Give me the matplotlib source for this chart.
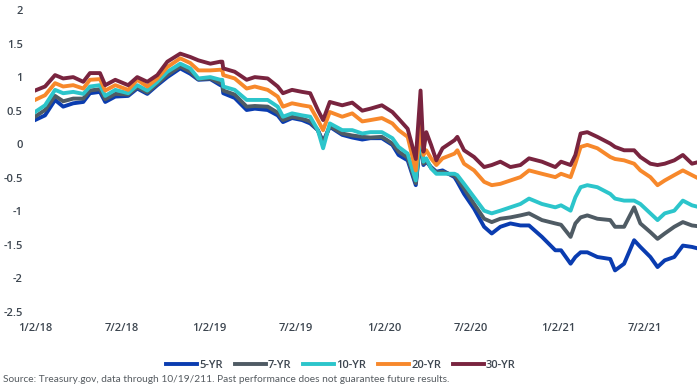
import pandas as pd
import matplotlib
matplotlib.use("Agg")
import matplotlib.pyplot as plt

plt.rcParams['font.family'] = ['Open Sans', 'DejaVu Sans']

dates = [
    "2018-01-02", "2018-01-23", "2018-02-13", "2018-03-02", "2018-03-23", "2018-04-13",
    "2018-04-27", "2018-05-18", "2018-05-29", "2018-06-19", "2018-07-16", "2018-08-04",
    "2018-08-25", "2018-09-15", "2018-10-06", "2018-11-02", "2018-11-23", "2018-12-10",
    "2019-01-04", "2019-01-25", "2019-01-29", "2019-01-31", "2019-02-24", "2019-03-21",
    "2019-04-07", "2019-05-04", "2019-05-25", "2019-06-05", "2019-06-24", "2019-07-15",
    "2019-08-01", "2019-08-17", "2019-08-28", "2019-09-11", "2019-10-07", "2019-10-28",
    "2019-11-18", "2019-12-05", "2019-12-29", "2020-01-20", "2020-02-02", "2020-02-21",
    "2020-03-09", "2020-03-19", "2020-03-25", "2020-03-31", "2020-04-10", "2020-04-21",
    "2020-05-04", "2020-05-29", "2020-06-04", "2020-06-18", "2020-07-09", "2020-07-30",
    "2020-08-15", "2020-09-02", "2020-09-23", "2020-10-14", "2020-11-01", "2020-11-28",
    "2020-12-26", "2021-01-07", "2021-01-27", "2021-02-06", "2021-02-17", "2021-03-03",
    "2021-03-24", "2021-04-20", "2021-04-30", "2021-05-19", "2021-06-09", "2021-06-22",
    "2021-07-13", "2021-07-28", "2021-08-12", "2021-09-01", "2021-09-19", "2021-10-08",
    "2021-10-19",
]

yr5 = [
    0.36, 0.43, 0.66, 0.56, 0.61, 0.63, 0.76, 0.78, 0.63, 0.71, 0.72, 0.83,
    0.75, 0.88, 1.00, 1.13, 1.05, 0.96, 0.97, 0.88, 0.88, 0.76, 0.69, 0.51,
    0.53, 0.51, 0.43, 0.33, 0.39, 0.36, 0.31, 0.21, 0.04, 0.26, 0.14, 0.10,
    0.07, 0.09, 0.09, -0.01, -0.16, -0.24, -0.61, 0.10, -0.31, -0.26, -0.34, -0.41,
    -0.39, -0.49, -0.56, -0.74, -0.96, -1.23, -1.33, -1.23, -1.18, -1.21, -1.21, -1.38,
    -1.58, -1.58, -1.78, -1.68, -1.61, -1.61, -1.68, -1.71, -1.88, -1.78, -1.43, -1.53,
    -1.68, -1.83, -1.73, -1.68, -1.51, -1.53, -1.55,
]
yr7 = [
    0.41, 0.51, 0.72, 0.64, 0.68, 0.68, 0.80, 0.82, 0.67, 0.75, 0.74, 0.85,
    0.77, 0.90, 1.03, 1.16, 1.08, 0.97, 0.98, 0.91, 0.91, 0.80, 0.74, 0.56,
    0.57, 0.56, 0.47, 0.36, 0.41, 0.38, 0.34, 0.21, 0.02, 0.27, 0.16, 0.13,
    0.11, 0.10, 0.11, 0.01, -0.11, -0.20, -0.58, 0.12, -0.29, -0.24, -0.35, -0.42,
    -0.41, -0.47, -0.52, -0.66, -0.89, -1.11, -1.16, -1.11, -1.09, -1.06, -1.03, -1.13,
    -1.18, -1.20, -1.38, -1.18, -1.09, -1.06, -1.11, -1.13, -1.23, -1.23, -0.94, -1.18,
    -1.31, -1.41, -1.33, -1.23, -1.16, -1.21, -1.22,
]
yr10 = [
    0.48, 0.58, 0.81, 0.76, 0.78, 0.75, 0.86, 0.88, 0.72, 0.81, 0.76, 0.88,
    0.80, 0.93, 1.08, 1.20, 1.13, 0.98, 1.00, 0.96, 0.96, 0.86, 0.81, 0.66,
    0.66, 0.66, 0.56, 0.41, 0.46, 0.43, 0.41, 0.21, -0.06, 0.31, 0.21, 0.21,
    0.16, 0.18, 0.18, 0.09, -0.04, -0.14, -0.54, 0.16, -0.26, -0.21, -0.36, -0.44,
    -0.44, -0.44, -0.46, -0.59, -0.79, -0.99, -1.03, -0.99, -0.94, -0.89, -0.81, -0.89,
    -0.94, -0.91, -0.99, -0.79, -0.64, -0.61, -0.64, -0.74, -0.81, -0.84, -0.84, -0.89,
    -1.03, -1.13, -1.03, -0.99, -0.84, -0.91, -0.93,
]
yr20 = [
    0.66, 0.73, 0.91, 0.86, 0.88, 0.83, 0.96, 0.97, 0.80, 0.88, 0.81, 0.96,
    0.86, 0.98, 1.15, 1.28, 1.21, 1.10, 1.10, 1.11, 1.11, 1.03, 0.98, 0.83,
    0.86, 0.81, 0.71, 0.56, 0.61, 0.58, 0.56, 0.36, 0.21, 0.48, 0.41, 0.46,
    0.34, 0.36, 0.39, 0.31, 0.21, 0.11, -0.39, 0.28, -0.16, -0.09, -0.21, -0.31,
    -0.21, -0.14, -0.09, -0.29, -0.39, -0.56, -0.61, -0.59, -0.54, -0.49, -0.39, -0.44,
    -0.49, -0.44, -0.49, -0.29, -0.04, -0.01, -0.06, -0.19, -0.22, -0.24, -0.29, -0.39,
    -0.49, -0.61, -0.54, -0.46, -0.39, -0.46, -0.50,
]
yr30 = [
    0.80, 0.86, 1.03, 0.98, 1.00, 0.93, 1.06, 1.06, 0.88, 0.96, 0.88, 1.00,
    0.93, 1.03, 1.23, 1.35, 1.30, 1.25, 1.20, 1.23, 1.23, 1.13, 1.08, 0.96,
    1.00, 0.98, 0.86, 0.76, 0.81, 0.78, 0.76, 0.51, 0.36, 0.63, 0.58, 0.62,
    0.50, 0.53, 0.58, 0.48, 0.38, 0.23, -0.22, 0.80, -0.11, 0.18, -0.01, -0.24,
    -0.06, 0.06, 0.11, -0.09, -0.19, -0.34, -0.31, -0.26, -0.34, -0.31, -0.21, -0.26,
    -0.34, -0.26, -0.31, -0.16, 0.16, 0.18, 0.11, 0.01, -0.04, -0.09, -0.09, -0.19,
    -0.29, -0.31, -0.29, -0.24, -0.16, -0.29, -0.27,
]

labels = ["5-YR", "7-YR", "10-YR", "20-YR", "30-YR"]
colors = ["#0a3cb0", "#4f5b64", "#2cc5cb", "#f7882b", "#79243f"]

x = pd.to_datetime(dates)

fig = plt.figure(figsize=(7, 3.92), dpi=100)
ax = fig.add_axes([0.05, 0.204, 0.946, 0.7705])

for vals, lab, col in zip([yr5, yr7, yr10, yr20, yr30], labels, colors):
    ax.plot(x, vals, color=col, linewidth=2.8, label=lab, solid_joinstyle='round')

ax.set_ylim(-2.5, 2)
ax.set_yticks([-2.5, -2, -1.5, -1, -0.5, 0, 0.5, 1, 1.5, 2])
ax.set_yticklabels(["-2.5", "-2", "-1.5", "-1", "-0.5", "0", "0.5", "1", "1.5", "2"])
ax.set_xlim(pd.Timestamp("2018-01-02"), pd.Timestamp("2021-10-19"))
xt = pd.to_datetime(["2018-01-02", "2018-07-02", "2019-01-02", "2019-07-02",
                     "2020-01-02", "2020-07-02", "2021-01-02", "2021-07-02"])
ax.set_xticks(xt)
ax.set_xticklabels(["1/2/18", "7/2/18", "1/2/19", "7/2/19",
                    "1/2/20", "7/2/20", "1/2/21", "7/2/21"])

for s in ax.spines.values():
    s.set_visible(False)
ax.tick_params(axis='both', length=0, labelsize=8, labelcolor="#3d4650")
ax.tick_params(axis='y', pad=9)
ax.tick_params(axis='x', pad=8)
for t in ax.get_xticklabels() + ax.get_yticklabels():
    t.set_fontweight('semibold')

leg = fig.legend(loc='center', bbox_to_anchor=(341 / 700, 1 - 365 / 392), ncol=5,
                 frameon=False, handlelength=2.8, handletextpad=0.15, columnspacing=1.1,
                 prop={'size': 8, 'weight': 'semibold'})
for t in leg.get_texts():
    t.set_color("#3d4650")

fig.text(0.004, 0.02, "Source: Treasury.gov, data through 10/19/211. Past performance does not guarantee future results.",
         fontsize=7.3, family=['Lato', 'DejaVu Sans'], color="#555b60", ha='left', va='bottom')

fig.savefig("out.png", dpi=100)
